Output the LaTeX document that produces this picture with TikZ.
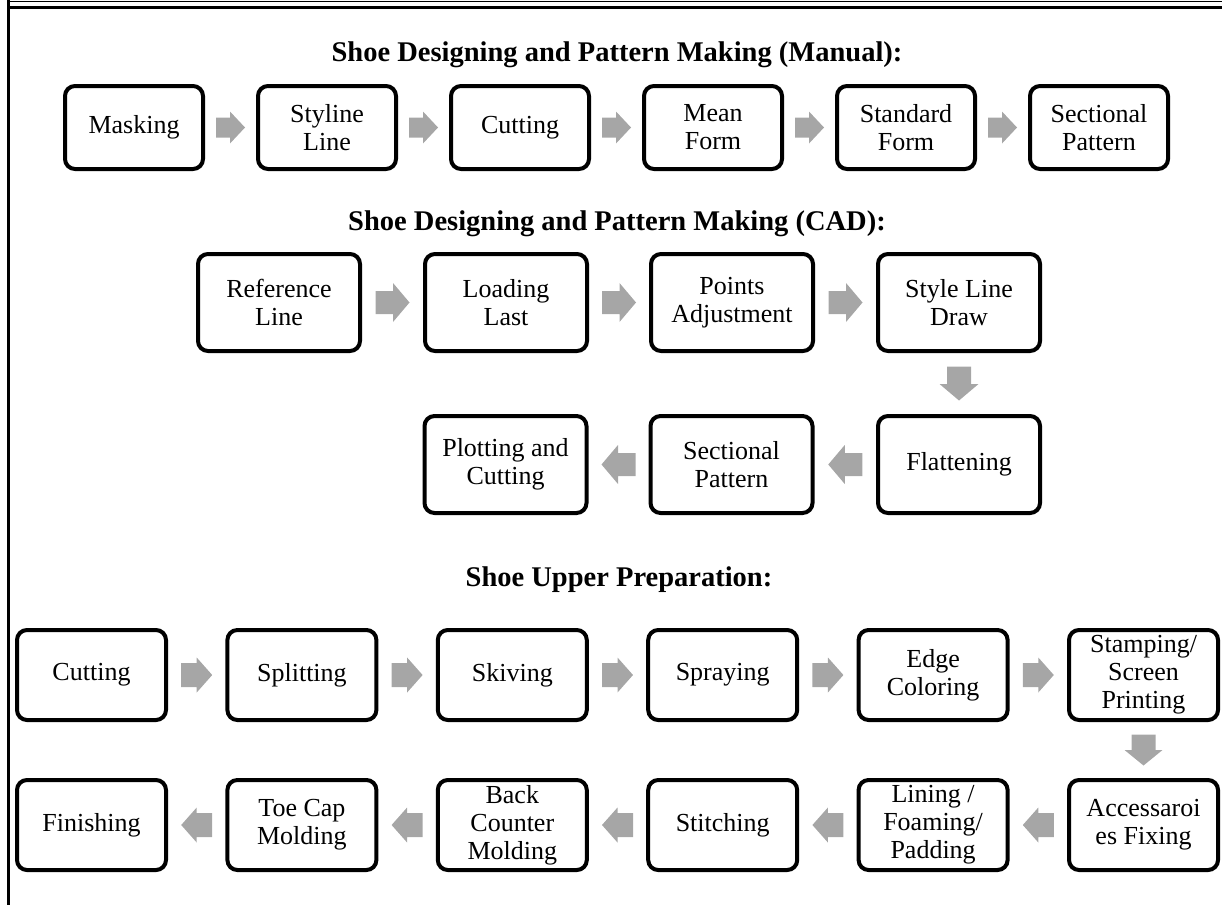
\documentclass[tikz,border=0pt]{standalone}
\usepackage{fontspec}
\setmainfont{Liberation Serif}
\usetikzlibrary{calc}
\definecolor{arrowgray}{RGB}{166,166,166}
\begin{document}
\begin{tikzpicture}[x=1pt,y=-1pt,
  box/.style={draw=black, line width=4pt, rounded corners=10pt, align=center, inner sep=0pt, font=\fontsize{26}{28}\selectfont},
  boxA/.style={box, minimum width=138pt, minimum height=83pt},
  boxB/.style={box, minimum width=162pt, minimum height=97pt},
  boxC/.style={box, minimum width=149pt, minimum height=90pt},
  title/.style={font=\fontsize{28.5}{32}\selectfont\bfseries, anchor=base},
  pics/barr/.style n args={4}{code={\fill[arrowgray] (-#1,-#3) -- (#1-#2,-#3) -- (#1-#2,-#4) -- (#1,0) -- (#1-#2,#4) -- (#1-#2,#3) -- (-#1,#3) -- cycle;}},
]
\useasboundingbox (0,0) rectangle (1222,905);
% frame
\draw[line width=1pt] (7,1) -- (1222,1);
\draw[line width=3pt] (7.5,7.5) -- (1222,7.5);
\draw[line width=2.5pt] (8.3,0) -- (8.3,905);

% titles
\node[title] (t1) at (617,61) {Shoe Designing and Pattern Making (Manual):};
\node[title] (t2) at (617,230) {Shoe Designing and Pattern Making (CAD):};
\node[title] (t3) at (619,586) {Shoe Upper Preparation:};

% row 1
\node[boxA] (a1) at (134,127.5) {Masking};
\node[boxA] (a2) at (327,127.5) {Styline\\Line};
\node[boxA] (a3) at (520,127.5) {Cutting};
\node[boxA] (a4) at (713,127.5) {Mean\\Form};
\node[boxA] (a5) at (906,127.5) {Standard\\Form};
\node[boxA] (a6) at (1099,127.5) {Sectional\\Pattern};
\foreach \i/\j in {a1/a2,a2/a3,a3/a4,a4/a5,a5/a6}
  \pic at ($(\i.east)!0.5!(\j.west)$) {barr={14.5}{15}{10}{16}};

% row 2
\node[boxB] (b1) at (279,302.5) {Reference\\Line};
\node[boxB] (b2) at (506,302.5) {Loading\\Last};
\node[boxB] (b3) at (732,302.5) {Points\\Adjustment};
\node[boxB] (b4) at (959,302.5) {Style Line\\Draw};
\foreach \i/\j in {b1/b2,b2/b3,b3/b4}
  \pic at ($(\i.east)!0.5!(\j.west)$) {barr={17}{16.5}{11.5}{19.5}};

% row 3
\node[boxB] (c1) at (505.5,464.5) {Plotting and\\Cutting};
\node[boxB] (c2) at (731.5,464.5) {Sectional\\Pattern};
\node[boxB] (c3) at (959,464.5) {Flattening};
\pic[rotate=-90] at ($(b4.south)!0.5!(c3.north)$) {barr={17}{16.5}{12}{19.5}};
\foreach \i/\j in {c3/c2,c2/c1}
  \pic[rotate=180] at ($(\i.west)!0.5!(\j.east)$) {barr={17}{16.5}{11.5}{19.5}};

% row 4
\node[boxC] (d1) at (91.5,675) {Cutting};
\node[boxC] (d2) at (301.9,675) {Splitting};
\node[boxC] (d3) at (512.3,675) {Skiving};
\node[boxC] (d4) at (722.7,675) {Spraying};
\node[boxC] (d5) at (933.1,675) {Edge\\Coloring};
\node[boxC] (d6) at (1143.5,675) {Stamping/\\Screen\\Printing};
\foreach \i/\j in {d1/d2,d2/d3,d3/d4,d4/d5,d5/d6}
  \pic at ($(\i.east)!0.5!(\j.west)$) {barr={15.5}{15.5}{12}{17.5}};

% row 5
\node[boxC] (e1) at (91.5,825) {Finishing};
\node[boxC] (e2) at (301.9,825) {Toe Cap\\Molding};
\node[boxC] (e3) at (512.3,825) {Back\\Counter\\Molding};
\node[boxC] (e4) at (722.7,825) {Stitching};
\node[boxC] (e5) at (933.1,825) {Lining /\\Foaming/\\Padding};
\node[boxC] (e6) at (1143.5,825) {Accessaroi\\es Fixing};
\pic[rotate=-90] at ($(d6.south)!0.5!(e6.north)$) {barr={15.5}{15.5}{12}{19}};
\foreach \i/\j in {e6/e5,e5/e4,e4/e3,e3/e2,e2/e1}
  \pic[rotate=180] at ($(\i.west)!0.5!(\j.east)$) {barr={15.5}{15.5}{12}{17.5}};
\end{tikzpicture}
\end{document}
